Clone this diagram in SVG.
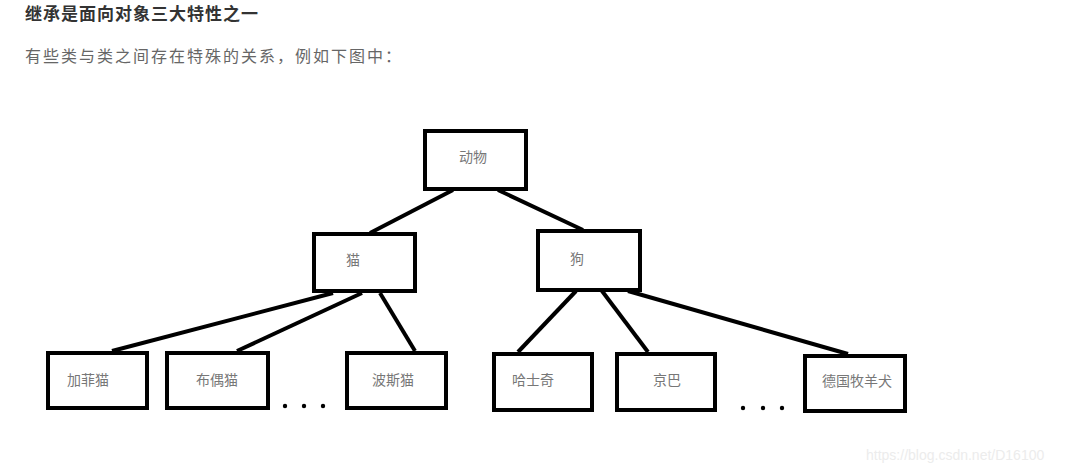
<svg xmlns="http://www.w3.org/2000/svg" width="1076" height="472" viewBox="0 0 1076 472">
<style>
.box{fill:#fff;stroke:#000;stroke-width:4}
.lbl{font-family:"Noto Sans CJK SC","Liberation Serif",serif;font-size:14px;fill:#777;text-anchor:middle}
.edge{stroke:#000;stroke-width:4;fill:none}
.dot{fill:#000}
</style>
<rect width="1076" height="472" fill="#fff"/>
<text x="25" y="20" font-family="'Noto Sans CJK SC',sans-serif" font-size="17" font-weight="bold" fill="#333" letter-spacing="1">继承是面向对象三大特性之一</text>
<text x="25" y="62" font-family="'Noto Sans CJK SC',sans-serif" font-size="16" fill="#666" letter-spacing="2">有些类与类之间存在特殊的关系，例如下图中：</text>
<g id="connectors">
<line class="edge" x1="453" y1="190" x2="370" y2="233"/>
<line class="edge" x1="498" y1="190" x2="583" y2="230"/>
<line class="edge" x1="333" y1="293" x2="112" y2="351"/>
<line class="edge" x1="362" y1="293" x2="237" y2="351"/>
<line class="edge" x1="380" y1="293" x2="415" y2="351"/>
<line class="edge" x1="576" y1="291" x2="518" y2="352"/>
<line class="edge" x1="602" y1="291" x2="648" y2="352"/>
<line class="edge" x1="628" y1="291" x2="848" y2="354"/>
</g>
<g id="animal"><rect class="box" x="425" y="131" width="101" height="58"/><text class="lbl" x="473" y="162">动物</text></g>
<g id="cat"><rect class="box" x="314" y="234" width="101" height="57"/><text class="lbl" x="353" y="265">猫</text></g>
<g id="dog"><rect class="box" x="538" y="231" width="102" height="59"/><text class="lbl" x="577" y="264">狗</text></g>
<g id="garfield"><rect class="box" x="48" y="353" width="99" height="55"/><text class="lbl" x="88" y="385">加菲猫</text></g>
<g id="ragdoll"><rect class="box" x="167" y="353" width="101" height="55"/><text class="lbl" x="217" y="385">布偶猫</text></g>
<g id="persian"><rect class="box" x="347" y="353" width="99" height="55"/><text class="lbl" x="393" y="385">波斯猫</text></g>
<g id="husky"><rect class="box" x="494" y="354" width="98" height="56"/><text class="lbl" x="533" y="385">哈士奇</text></g>
<g id="pekingese"><rect class="box" x="617" y="354" width="98" height="56"/><text class="lbl" x="667" y="385">京巴</text></g>
<g id="shepherd"><rect class="box" x="805" y="356" width="100" height="55"/><text class="lbl" x="857" y="386">德国牧羊犬</text></g>
<g id="dots-left"><circle class="dot" cx="285" cy="406" r="2.2"/><circle class="dot" cx="304" cy="406" r="2.2"/><circle class="dot" cx="323" cy="406" r="2.2"/></g>
<g id="dots-right"><circle class="dot" cx="743" cy="408" r="2.2"/><circle class="dot" cx="763" cy="408" r="2.2"/><circle class="dot" cx="782" cy="408" r="2.2"/></g>
<text x="866" y="460" font-family="'Liberation Sans',sans-serif" font-size="14" fill="#ececec">https://blog.csdn.net/D16100</text>
</svg>
